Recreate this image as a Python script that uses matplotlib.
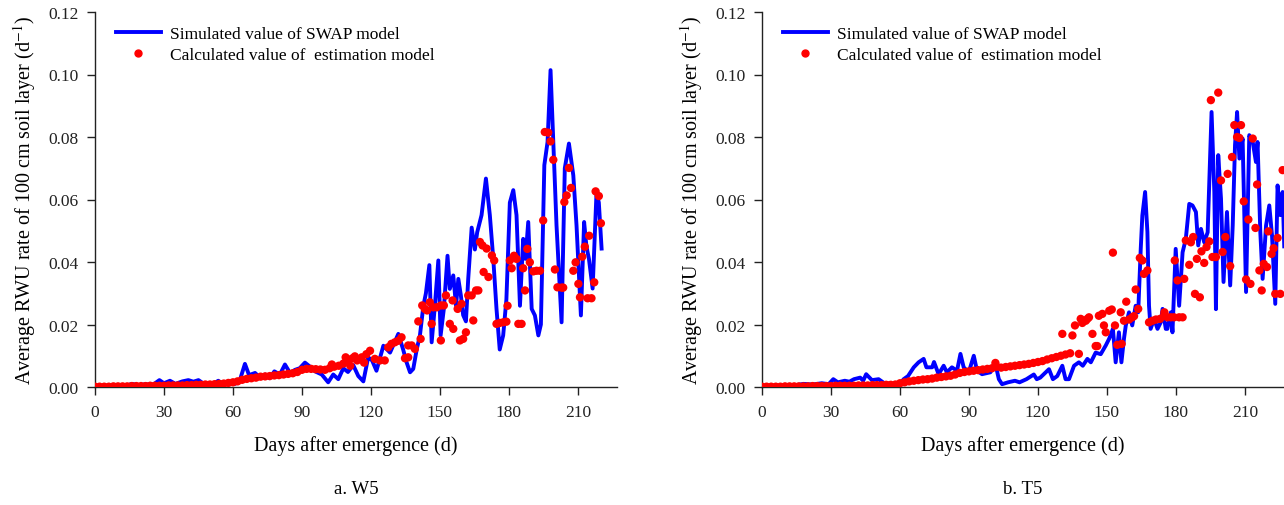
#!/usr/bin/env python3
# -*- coding: utf-8 -*-
"""
    RWU rate of the 100 cm soil layer: SWAP simulation vs estimation model
"""
import numpy as np
import matplotlib
matplotlib.use("Agg")
import matplotlib.pyplot as plt
from matplotlib.lines import Line2D

plt.rcParams['font.family'] = ['Liberation Serif', 'DejaVu Serif']
plt.rcParams['mathtext.fontset'] = 'stix'

# ---------------- W5 ----------------
w5_sim_day = [0, 5, 10, 14, 16, 19, 22, 25, 28, 30, 32.6, 35, 38, 40.6, 42.8, 45,
              47.8, 50.7, 53.6, 55.8, 58, 60.9, 63, 65.2, 67, 69.6, 71.7, 74, 76,
              78, 80.4, 82.6, 84.8, 87, 89, 91.3, 93.5, 95.7, 98.6, 101.4, 103.6,
              105.8, 108, 110, 112.3, 114.5, 116.7, 118.8, 120.5, 122.4, 125.4,
              128.3, 131.9, 134, 135.5, 137, 138.4, 139.9, 141.3, 142.8, 143.9,
              145.4, 146.4, 147.8, 149.3, 150.3, 151.7, 153.3, 154.3, 155.8, 157,
              158, 159.1, 160.1, 161.3, 162.3, 163.8, 165.2, 166.2, 168.1, 170,
              171.7, 173.2, 174.6, 176, 177.5, 178.9, 180.4, 181.9, 183.3, 184.8,
              186.2, 187.2, 188.4, 189.9, 191.3, 192.8, 193.9, 195.4, 196.8, 198.1,
              199.3, 200.7, 202.9, 204.3, 206.1, 208, 209.4, 211.3, 212.7, 213.7,
              214.8, 216.4, 218.1, 219.1, 220.3]
w5_sim_val = [0.0002, 0.0003, 0.0004, 0.0005, 0.0010, 0.0006, 0.0009, 0.0006, 0.0022,
              0.0012, 0.0020, 0.0010, 0.0018, 0.0022, 0.0017, 0.0022, 0.0008, 0.0006,
              0.0020, 0.0008, 0.0018, 0.0010, 0.0022, 0.0074, 0.0038, 0.0045, 0.0030,
              0.0040, 0.0028, 0.0050, 0.0040, 0.0072, 0.0045, 0.0055, 0.0060, 0.0078,
              0.0065, 0.0050, 0.0040, 0.0015, 0.0040, 0.0025, 0.0060, 0.0048, 0.0070,
              0.0035, 0.0018, 0.0095, 0.0085, 0.0052, 0.0132, 0.0110, 0.0170, 0.0120,
              0.0079, 0.0047, 0.0058, 0.0120, 0.0165, 0.0260, 0.0300, 0.0390, 0.0143,
              0.0260, 0.0405, 0.0165, 0.0250, 0.0420, 0.0314, 0.0357, 0.0260, 0.0346,
              0.0293, 0.0230, 0.0210, 0.0346, 0.0510, 0.0440, 0.0495, 0.0550, 0.0667,
              0.0550, 0.0410, 0.0250, 0.0120, 0.0165, 0.0280, 0.0590, 0.0630, 0.0550,
              0.0260, 0.0474, 0.0410, 0.0528, 0.0250, 0.0229, 0.0165, 0.0200, 0.0710,
              0.0784, 0.1014, 0.0784, 0.0517, 0.0207, 0.0700, 0.0779, 0.0677, 0.0517,
              0.0229, 0.0528, 0.0450, 0.0410, 0.0315, 0.0624, 0.0590, 0.0443]

w5_est_early = [0.0001, 0.0001, 0.0001, 0.0001, 0.0002, 0.0002, 0.0002, 0.0002, 0.0003,
                0.0003, 0.0003, 0.0003, 0.0004, 0.0004, 0.0004, 0.0004, 0.0005, 0.0005,
                0.0005, 0.0005, 0.0006, 0.0006, 0.0007, 0.0007, 0.0008, 0.0008, 0.0009,
                0.0010, 0.0011, 0.0013, 0.0015, 0.0018, 0.0023, 0.0026, 0.0028, 0.0030,
                0.0033, 0.0034, 0.0035, 0.0037, 0.0038, 0.0040, 0.0042, 0.0044, 0.0048,
                0.0055, 0.0058, 0.0058, 0.0057, 0.0056, 0.0055, 0.0060, 0.0065, 0.0068,
                0.0075, 0.0088, 0.0092, 0.0085, 0.0095, 0.0105]
w5_est_day = [119.6, 121.7, 123.9, 126, 127.5, 128.9, 130.4, 131.9, 133.3, 134.8, 136.2,
              136.2, 137.7, 139.1, 140.6, 141.6, 142.3, 143.4, 144.4, 145.6, 146.4,
              147.1, 148.6, 150.4, 150.4, 151.7, 152.6, 154.3, 155.8, 155.5, 157.7,
              158.7, 160.1, 161.3, 159.4, 162.3, 163.8, 164.5, 165.7, 166.7, 167.4,
              168.5, 170.3, 169, 171.1, 172.6, 173.6, 174.6, 176, 177.5, 178.9, 179.4,
              180.4, 181.2, 182.2, 183.3, 184.1, 185.5, 186.2, 187, 188, 189.1, 190.6,
              192, 193.5, 194.9, 195.6, 197.1, 198.1, 199.3, 200, 201.1, 202.9, 203.6,
              204.1, 205.1, 206.1, 207, 208, 209, 210.2, 210.9, 211.9, 213, 214.9,
              214.2, 215.9, 217.1, 217.7, 219.1, 220.0, 103, 109, 111, 113, 117]
w5_est_val = [0.0116, 0.0090, 0.0085, 0.0085, 0.0127, 0.0138, 0.0143, 0.0148, 0.0159,
              0.0092, 0.0095, 0.0133, 0.0133, 0.0122, 0.0210, 0.0154, 0.0261, 0.0250,
              0.0245, 0.0271, 0.0202, 0.0255, 0.0255, 0.0149, 0.0261, 0.0261, 0.0293,
              0.0202, 0.0186, 0.0277, 0.0250, 0.0149, 0.0154, 0.0175, 0.0266, 0.0293,
              0.0293, 0.0213, 0.0309, 0.0309, 0.0464, 0.0453, 0.0443, 0.0368, 0.0352,
              0.0421, 0.0405, 0.0202, 0.0205, 0.0207, 0.0209, 0.0260, 0.0405, 0.0380,
              0.0420, 0.0410, 0.0202, 0.0202, 0.0380, 0.0309, 0.0442, 0.0399, 0.0370,
              0.0372, 0.0372, 0.0533, 0.0816, 0.0814, 0.0786, 0.0727, 0.0376, 0.0319,
              0.0318, 0.0318, 0.0592, 0.0613, 0.0701, 0.0637, 0.0372, 0.0399, 0.0330,
              0.0287, 0.0417, 0.0449, 0.0484, 0.0284, 0.0284, 0.0335, 0.0626, 0.0611,
              0.0524, 0.0072, 0.0095, 0.0068, 0.0098, 0.0078]

# ---------------- T5 ----------------
t5_sim_day = [0, 10, 15, 18, 22, 26, 29, 31, 33, 36, 38, 40, 42.7, 44, 45.3, 47.8, 50.7,
              53.6, 56, 58, 60, 61.6, 63.5, 66, 68.1, 70.3, 71.5, 74, 74.8, 76.8, 79,
              80.4, 82.6, 84.8, 86.3, 87.7, 89.9, 92.1, 93.5, 95.7, 99.3, 101.5, 103,
              104.4, 107, 110, 112, 115, 118.2, 119.5, 121, 124.8, 126.5, 128.4, 130.6,
              132, 133.5, 135.7, 137.8, 139.5, 141.5, 143, 145.1, 147.3, 149.5, 151,
              152.6, 153.8, 155.2, 156.3, 157.4, 158.2, 159.6, 161, 162.5, 163.6, 164.7,
              165.4, 166.6, 167.6, 168.3, 169, 170.5, 172, 173.4, 174.2, 175.6, 176.3,
              177.8, 178.5, 179.9, 181.4, 182.9, 184.3, 185.8, 187.2, 188.7, 189.7,
              190.9, 192.3, 193.8, 195.5, 196.7, 197.4, 198.4, 199.6, 200.7, 202.2,
              203.6, 204.7, 205.7, 206.6, 207.6, 209, 210.5, 211.9, 213.4, 214.8, 215.5,
              216.7, 217.7, 219.2, 220.6, 221.8, 223.2, 224.2, 225.4, 226.4, 227.1]
t5_sim_val = [0.0001, 0.0003, 0.0006, 0.0010, 0.0008, 0.0012, 0.0009, 0.0025, 0.0015,
              0.0020, 0.0017, 0.0025, 0.0030, 0.0020, 0.0041, 0.0022, 0.0025, 0.0010,
              0.0012, 0.0003, 0.0010, 0.0025, 0.0035, 0.0063, 0.0079, 0.0090, 0.0063,
              0.0063, 0.0080, 0.0041, 0.0068, 0.0047, 0.0063, 0.0052, 0.0106, 0.0063,
              0.0047, 0.0100, 0.0052, 0.0041, 0.0047, 0.0074, 0.0025, 0.0009, 0.0015,
              0.0020, 0.0015, 0.0025, 0.0040, 0.0025, 0.0030, 0.0057, 0.0025, 0.0035,
              0.0068, 0.0025, 0.0025, 0.0068, 0.0079, 0.0068, 0.0090, 0.0079, 0.0110,
              0.0105, 0.0133, 0.0155, 0.0186, 0.0079, 0.0175, 0.0079, 0.0154, 0.0197,
              0.0239, 0.0197, 0.0260, 0.0239, 0.0442, 0.0549, 0.0624, 0.0496, 0.0260,
              0.0186, 0.0218, 0.0186, 0.0207, 0.0250, 0.0186, 0.0186, 0.0239, 0.0175,
              0.0442, 0.0260, 0.0431, 0.0474, 0.0586, 0.0581, 0.0560, 0.0453, 0.0506,
              0.0463, 0.0495, 0.0880, 0.0624, 0.0249, 0.0742, 0.0603, 0.0336, 0.0560,
              0.0325, 0.0517, 0.0774, 0.0880, 0.0731, 0.0795, 0.0304, 0.0806, 0.0784,
              0.0720, 0.0784, 0.0495, 0.0346, 0.0517, 0.0581, 0.0484, 0.0266, 0.0645,
              0.0550, 0.0624, 0.0450]

t5_est_early = [0.0001, 0.0001, 0.0001, 0.0001, 0.0001, 0.0002, 0.0002, 0.0002, 0.0002,
                0.0002, 0.0002, 0.0003, 0.0003, 0.0003, 0.0003, 0.0003, 0.0004, 0.0004,
                0.0004, 0.0004, 0.0004, 0.0005, 0.0005, 0.0005, 0.0006, 0.0006, 0.0006,
                0.0007, 0.0007, 0.0008, 0.0012, 0.0015, 0.0018, 0.0020, 0.0022, 0.0024,
                0.0025, 0.0027, 0.0030, 0.0032, 0.0034, 0.0036, 0.0040, 0.0045, 0.0048,
                0.0050, 0.0052, 0.0054, 0.0056, 0.0058, 0.0060, 0.0065, 0.0062, 0.0064,
                0.0066, 0.0068, 0.0070, 0.0072, 0.0074, 0.0077, 0.0080, 0.0083, 0.0088,
                0.0092, 0.0096, 0.0100, 0.0104, 0.0108]
t5_est_day = [101.5, 130.6, 135, 136.1, 137.8, 138.6, 139.3, 140.8, 141.5, 142.2, 143.7,
              145.1, 145.8, 146.5, 148, 148.7, 149.5, 151, 152.1, 152.6, 153.5, 154.5,
              156, 156.4, 157.4, 158.4, 159.6, 161, 161.8, 162.5, 163.6, 164.3, 165.4,
              166.1, 167.6, 168.3, 169.8, 171.3, 173.1, 175, 174.9, 176.3, 177.8, 179.2,
              181.4, 182.9, 179.5, 180.7, 183.6, 184.3, 185.8, 186.5, 187.5, 188.3,
              190.4, 189.1, 191.1, 192.3, 193.3, 194.5, 195.9, 197.4, 195.2, 198.4,
              199.6, 200.3, 201.5, 202.5, 203.6, 204.4, 205.4, 206.6, 207.6, 208.3,
              209.5, 210.5, 211.5, 212.4, 213.4, 214.6, 215.3, 216.3, 217.3, 218.2,
              219.6, 220.2, 221.6, 222.5, 223.2, 224.2, 225.4, 226.4]
t5_est_val = [0.0077, 0.0170, 0.0165, 0.0197, 0.0106, 0.0218, 0.0205, 0.0212, 0.0218,
              0.0223, 0.0170, 0.0131, 0.0131, 0.0228, 0.0234, 0.0197, 0.0175, 0.0244,
              0.0248, 0.0430, 0.0197, 0.0135, 0.0239, 0.0138, 0.0212, 0.0273, 0.0216,
              0.0223, 0.0227, 0.0312, 0.0250, 0.0413, 0.0405, 0.0362, 0.0373, 0.0207,
              0.0212, 0.0216, 0.0218, 0.0239, 0.0229, 0.0223, 0.0223, 0.0223, 0.0223,
              0.0223, 0.0405, 0.0341, 0.0346, 0.0469, 0.0391, 0.0463, 0.0480, 0.0298,
              0.0287, 0.0410, 0.0434, 0.0397, 0.0448, 0.0466, 0.0416, 0.0416, 0.0918,
              0.0942, 0.0661, 0.0432, 0.0480, 0.0682, 0.0387, 0.0736, 0.0838, 0.0800,
              0.0797, 0.0838, 0.0594, 0.0344, 0.0536, 0.0330, 0.0795, 0.0509, 0.0648,
              0.0373, 0.0309, 0.0394, 0.0384, 0.0498, 0.0426, 0.0444, 0.0298, 0.0477,
              0.0298, 0.0694]

y_ticks = [0.00, 0.02, 0.04, 0.06, 0.08, 0.10, 0.12]
x_ticks = [0, 30, 60, 90, 120, 150, 180, 210]

fig = plt.figure(figsize=(12.84, 5.06), dpi=100)
W, H = 1284, 506

panels = [
    (95, w5_sim_day, w5_sim_val, w5_est_early, w5_est_day, w5_est_val, "a. W5"),
    (762, t5_sim_day, t5_sim_val, t5_est_early, t5_est_day, t5_est_val, "b. T5"),
]

for x0, sd, sv, early, ed, ev, caption in panels:
    ax = fig.add_axes([x0 / W, 1 - 388 / H, 522 / W, 375 / H])
    ax.plot(sd, sv, color='#0000ff', lw=2.8, zorder=2)
    early_day = np.arange(0, 2 * len(early), 2)
    ax.scatter(early_day, early, s=36, color='#ff0000', edgecolors='none', zorder=3)
    ax.scatter(ed, ev, s=36, color='#ff0000', edgecolors='none', zorder=3)

    ax.set_xlim(0, 227)
    ax.set_ylim(0, 0.12)
    ax.set_xticks(x_ticks)
    ax.set_yticks(y_ticks)
    ax.set_yticklabels([f"{t:.2f}" for t in y_ticks])
    ax.spines['top'].set_visible(False)
    ax.spines['right'].set_visible(False)
    for sp in ('left', 'bottom'):
        ax.spines[sp].set_linewidth(1.0)
        ax.spines[sp].set_color('#222222')
    ax.tick_params(direction='out', length=6, width=1.0, labelsize=12.5,
                   colors='#222222', pad=6)
    ax.set_xlabel("Days after emergence (d)", fontsize=14.5, labelpad=11)
    ax.set_ylabel("Average RWU rate of 100 cm soil layer (d$^{-1}$)",
                  fontsize=14.5, labelpad=7)

    handles = [Line2D([], [], color='#0000ff', lw=2.8),
               Line2D([], [], color='#ff0000', marker='o', ls='none', markersize=5)]
    ax.legend(handles, ["Simulated value of SWAP model",
                        "Calculated value of  estimation model"],
              loc='upper left', bbox_to_anchor=(0.02, 0.99), frameon=False,
              fontsize=12.5, handlelength=2.6, handletextpad=0.5,
              labelspacing=0.25, borderaxespad=0.2)

    fig.text((x0 + 261) / W, 1 - 490 / H, caption, ha='center', va='center',
             fontsize=13.5)

plt.savefig("out.png", dpi=100)
